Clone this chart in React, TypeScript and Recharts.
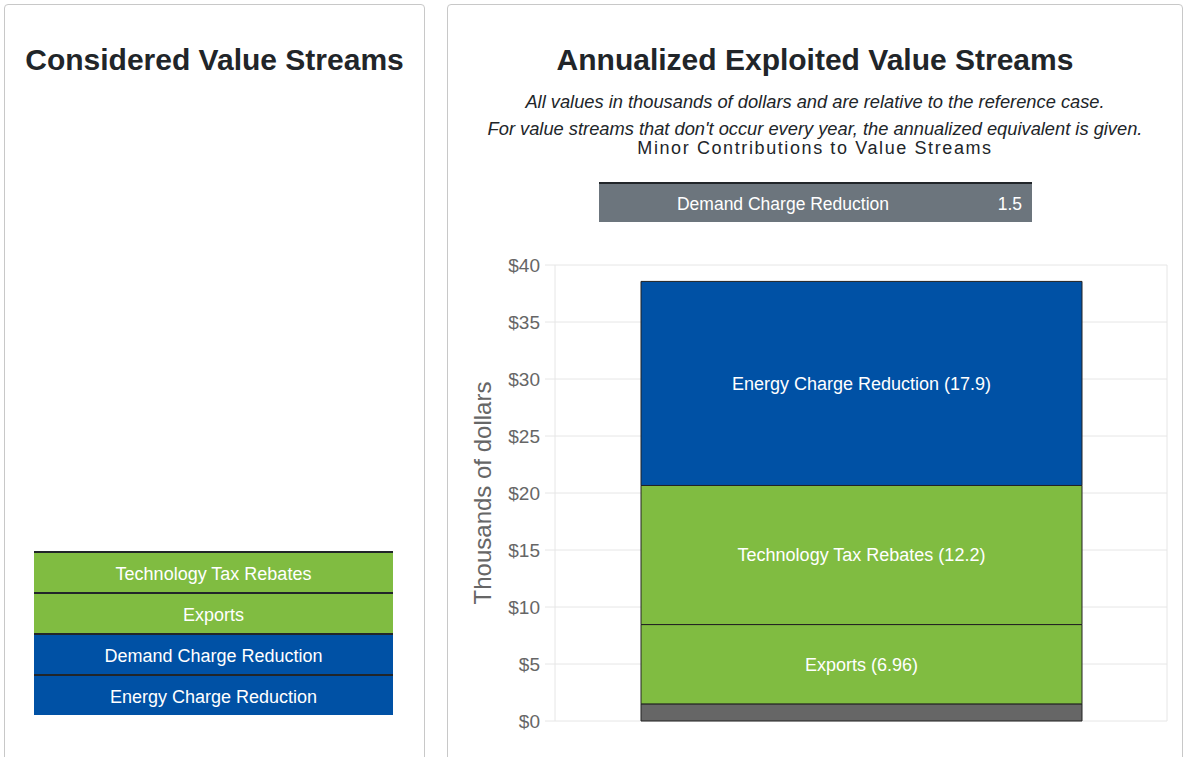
import React from 'react'
import { BarChart, Bar, XAxis, YAxis, CartesianGrid, LabelList } from 'recharts'

// data
const categories = ['Annualized']
const demandCharge = [1.5]
const exportsValue = [6.96]
const taxRebates = [12.2]
const energyCharge = [17.9]
const yTicks = [0, 5, 10, 15, 20, 25, 30, 35, 40]

const consideredStreams = [
  'Technology Tax Rebates',
  'Exports',
  'Demand Charge Reduction',
  'Energy Charge Reduction',
]
const minorStreams = ['Demand Charge Reduction']
const minorValues = [1.5]

const GREEN = '#80bc41'
const BLUE = '#0051a5'
const DARK_GRAY = '#666666'
const TABLE_GRAY = '#6c757d'
const BORDER = '#212529'

const streamColor: Record<string, string> = {
  'Technology Tax Rebates': GREEN,
  Exports: GREEN,
  'Demand Charge Reduction': BLUE,
  'Energy Charge Reduction': BLUE,
}

const chartData = categories.map((name, i) => ({
  name,
  demand: demandCharge[i],
  exports: exportsValue[i],
  tax: taxRebates[i],
  energy: energyCharge[i],
}))

const series = [
  { key: 'demand', label: '', color: DARK_GRAY },
  { key: 'exports', label: 'Exports', color: GREEN },
  { key: 'tax', label: 'Technology Tax Rebates', color: GREEN },
  { key: 'energy', label: 'Energy Charge Reduction', color: BLUE },
]

const FONT = '"Liberation Sans", Arial, Helvetica, sans-serif'

const card: React.CSSProperties = {
  position: 'absolute',
  top: 4,
  height: 780,
  border: '1px solid #c8c8c8',
  borderRadius: 4,
  boxSizing: 'border-box',
  background: '#fff',
}

const title: React.CSSProperties = {
  position: 'absolute',
  top: 42,
  fontSize: 30,
  lineHeight: '36px',
  fontWeight: 700,
  color: '#212529',
  textAlign: 'center',
}

const subLine: React.CSSProperties = {
  position: 'absolute',
  left: 447,
  width: 736,
  textAlign: 'center',
  fontSize: 18.3,
  lineHeight: '20px',
  color: '#212529',
  whiteSpace: 'nowrap',
}

export default function App() {
  return (
    <div
      style={{
        position: 'absolute',
        left: 0,
        top: 0,
        width: 1184,
        height: 757,
        overflow: 'hidden',
        fontFamily: FONT,
        background: '#fff',
      }}
    >
      {/* left card */}
      <div style={{ ...card, left: 4, width: 421 }} />
      <div style={{ ...title, left: 4, width: 421 }}>Considered Value Streams</div>
      <div style={{ position: 'absolute', left: 34, top: 551, width: 359 }}>
        {consideredStreams.map((s) => (
          <div
            key={s}
            style={{
              borderTop: `2px solid ${BORDER}`,
              background: streamColor[s],
              color: '#fff',
              height: 39,
              lineHeight: '42px',
              overflow: 'hidden',
              fontSize: 18,
              textAlign: 'center',
            }}
          >
            {s}
          </div>
        ))}
      </div>

      {/* right card */}
      <div style={{ ...card, left: 447, width: 736 }} />
      <div style={{ ...title, left: 447, width: 736 }}>Annualized Exploited Value Streams</div>
      <div style={{ ...subLine, top: 92, fontStyle: 'italic' }}>
        All values in thousands of dollars and are relative to the reference case.
      </div>
      <div style={{ ...subLine, top: 119, fontStyle: 'italic' }}>
        For value streams that don't occur every year, the annualized equivalent is given.
      </div>
      <div style={{ ...subLine, top: 138, fontSize: 18, letterSpacing: 1.6 }}>
        Minor Contributions to Value Streams
      </div>

      {/* minor contributions table */}
      <div style={{ position: 'absolute', left: 599, top: 182, width: 433 }}>
        {minorStreams.map((s, i) => (
          <div
            key={s}
            style={{
              display: 'flex',
              borderTop: `2px solid ${BORDER}`,
              background: TABLE_GRAY,
              color: '#fff',
              height: 38,
              lineHeight: '40px',
              fontSize: 17.5,
            }}
          >
            <div style={{ width: 368, textAlign: 'center' }}>{s}</div>
            <div style={{ width: 65, textAlign: 'right', paddingRight: 10, boxSizing: 'border-box' }}>
              {minorValues[i]}
            </div>
          </div>
        ))}
      </div>

      {/* stacked bar */}
      <div style={{ position: 'absolute', left: 460, top: 240 }}>
        <BarChart
          width={720}
          height={510}
          data={chartData}
          margin={{ top: 25, right: 13, left: 0, bottom: 0 }}
        >
          <CartesianGrid
            stroke="#e6e6e6"
            verticalCoordinatesGenerator={({ offset }: any) => [offset.left, offset.left + offset.width]}
          />
          <XAxis xAxisId="cat" dataKey="name" hide />
          <XAxis
            xAxisId="frame"
            type="number"
            domain={[0, 1]}
            ticks={[0, 1]}
            allowDataOverflow
            height={29}
            tickSize={12}
            tickLine={{ stroke: '#e6e6e6' }}
            axisLine={{ stroke: '#cccccc' }}
            tickFormatter={() => ''}
          />
          <YAxis
            width={95}
            domain={[0, 40]}
            ticks={yTicks}
            interval={0}
            axisLine={false}
            tickSize={10}
            tickMargin={5}
            tickLine={{ stroke: '#e6e6e6' }}
            tick={{ fill: '#666666', fontSize: 19, fontFamily: FONT }}
            tickFormatter={(v: number) => `$${v}`}
            label={{
              content: ({ viewBox }: any) => {
                const cy = viewBox.y + viewBox.height / 2
                const x = 22
                return (
                  <text
                    x={x}
                    y={cy}
                    transform={`rotate(-90, ${x}, ${cy})`}
                    textAnchor="middle"
                    dominantBaseline="central"
                    fill="#666666"
                    fontSize={24}
                    fontFamily={FONT}
                  >
                    Thousands of dollars
                  </text>
                )
              },
            }}
          />
          {series.map((s) => (
            <Bar
              key={s.key}
              xAxisId="cat"
              dataKey={s.key}
              stackId="a"
              fill={s.color}
              stroke="#222222"
              strokeWidth={1}
              barSize={441}
              isAnimationActive={false}
            >
              {s.label ? (
                <LabelList
                  dataKey={s.key}
                  position="center"
                  fill="#ffffff"
                  fontSize={18}
                  fontFamily={FONT}
                  formatter={(v: any) => `${s.label} (${v})`}
                />
              ) : null}
            </Bar>
          ))}
        </BarChart>
      </div>
    </div>
  )
}
